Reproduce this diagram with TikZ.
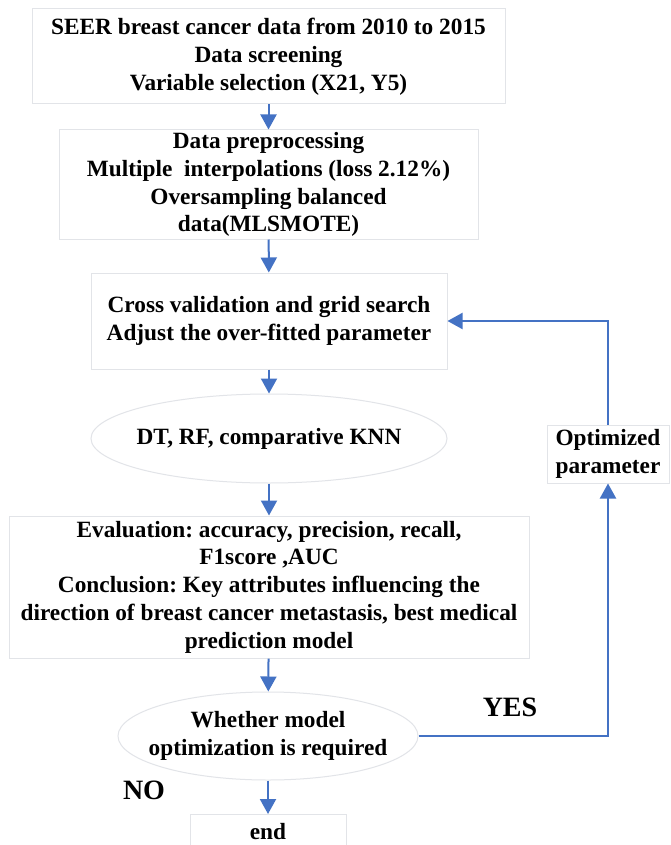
\documentclass[tikz,border=0pt]{standalone}
\usepackage{fontspec}
\setmainfont{Liberation Serif}
\usepackage{tikz}
\usetikzlibrary{arrows.meta,positioning,shapes.geometric}
\definecolor{flow}{RGB}{68,114,196}
\definecolor{edge}{RGB}{226,228,232}
\frenchspacing

\begin{document}
\begin{tikzpicture}[x=1pt,y=-1pt,
  box/.style={draw=edge,line width=1pt,fill=white,align=center,inner sep=0pt,
    font=\bfseries\fontsize{23.3}{27.8}\selectfont},
  oval/.style={box,ellipse,inner sep=-20pt},
  arr/.style={flow,line width=2pt,-{Triangle[length=15pt,width=16pt]}},
  tag/.style={font=\bfseries\fontsize{28}{32}\selectfont}]
  \clip (0,0) rectangle (670,845);
  \fill[white] (0,0) rectangle (670,845);
  % main column
  \node[box,minimum width=473pt,minimum height=95pt] (seer) at (268.5,56.5)
    {SEER breast cancer data from 2010 to 2015\\ Data screening\\ Variable selection (X21, Y5)};
  \node[box,minimum width=419pt,minimum height=109pt] (prep) at (268.5,184.5)
    {Data preprocessing\\ Multiple\ \ interpolations (loss 2.12\%)\\ Oversampling balanced\\ data(MLSMOTE)};
  \node[box,minimum width=356pt,minimum height=96pt] (cv) at (269,321)
    {Cross validation and grid search\\ Adjust the over-fitted parameter};
  \node[oval,minimum width=356pt,minimum height=89pt] (model) at (269,438.5)
    {DT, RF, comparative KNN};
  \node[box,minimum width=520pt,minimum height=142pt] (eval) at (269,587)
    {Evaluation: accuracy, precision, recall,\\ F1score ,AUC\\ Conclusion: Key attributes influencing the\\
     direction of breast cancer metastasis, best medical\\ prediction model};
  \node[oval,minimum width=300pt,minimum height=88pt] (dec) at (268,736)
    {Whether model\\ optimization is required};
  \node[box,minimum width=156pt,minimum height=34pt,anchor=north] (end) at (268,814) {end};
  % side loop
  \node[box,minimum width=122pt,minimum height=58pt] (opt) at (608,454) {Optimized\\ parameter};
  \node[tag] (yes) at (510,707) {YES};
  \node[tag] (no) at (144,790) {NO};
  \draw[arr] (seer) -- (prep);
  \draw[arr] (prep) -- (cv);
  \draw[arr] (cv) -- (model);
  \draw[arr] (model) -- (eval);
  \draw[arr] (eval) -- (dec);
  \draw[arr] (dec) -- (end);
  \draw[arr] (dec.east) -| (opt.south);
  \draw[arr] (opt.north) |- (cv.east);
\end{tikzpicture}
\end{document}
